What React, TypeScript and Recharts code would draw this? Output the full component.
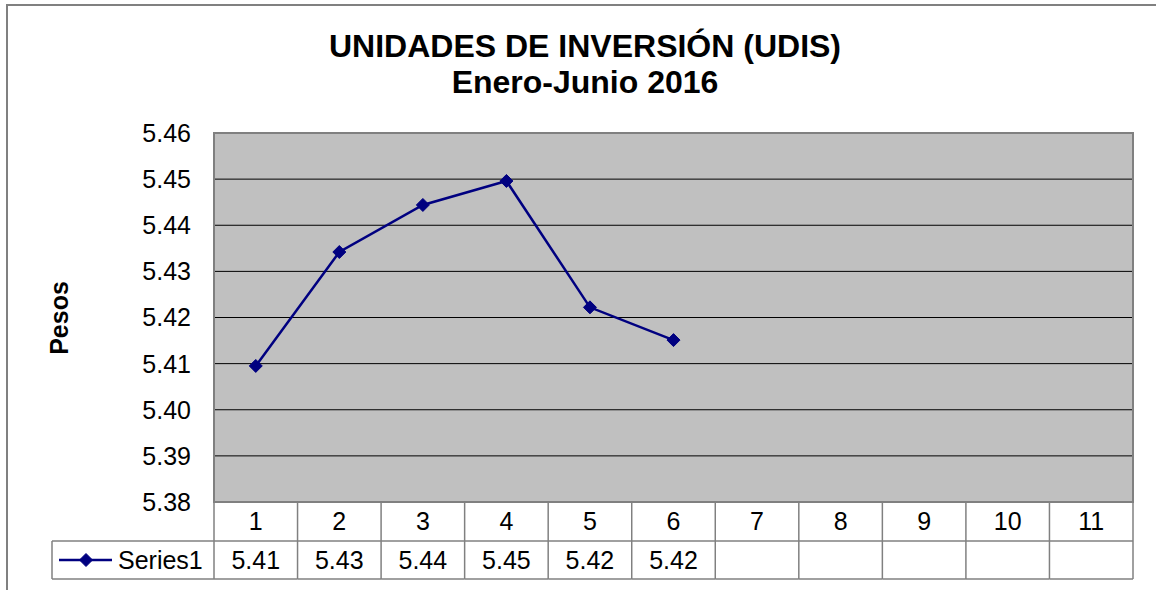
import React from "react";
import {
  LineChart,
  Line,
  XAxis,
  YAxis,
  CartesianGrid,
  ReferenceArea,
} from "recharts";

const categories = [1, 2, 3, 4, 5, 6, 7, 8, 9, 10, 11];
const seriesValues: (number | null)[] = [
  5.4095, 5.4342, 5.4444, 5.4496, 5.4222, 5.4151, null, null, null, null, null,
];
const yTicks = [5.38, 5.39, 5.4, 5.41, 5.42, 5.43, 5.44, 5.45, 5.46];
const seriesName = "Series1";
const titleLine1 = "UNIDADES DE INVERSIÓN (UDIS)";
const titleLine2 = "Enero-Junio 2016";
const yLabel = "Pesos";

const data = categories.map((c, i) => ({ cat: c, v: seriesValues[i] }));

const W = 1156;
const H = 590;
const PLOT_L = 214;
const PLOT_R = 1133;
const PLOT_T = 133;
const PLOT_B = 502;
const Y_AXIS_W = 80;
const X_AXIS_H = 80;
const ROW1_B = 541;
const ROW2_B = 579;
const LEGEND_L = 52;
const FONT = "'Liberation Sans', Arial, sans-serif";
const LINE_COLOR = "#000080";
const TABLE_STROKE = "#808080";
const TABLE_FS = 25;

const half = (PLOT_R - PLOT_L) / categories.length / 2;

const Diamond = (props: any) => {
  const { cx, cy } = props;
  if (cx == null || cy == null) return null;
  const r = 6.5;
  return (
    <path
      d={`M${cx},${cy - r}L${cx + r},${cy}L${cx},${cy + r}L${cx - r},${cy}Z`}
      fill={LINE_COLOR}
      stroke={LINE_COLOR}
    />
  );
};

const TableTick = (props: any) => {
  const { x, y, payload, index } = props;
  const i = categories.indexOf(payload.value);
  const v = seriesValues[i];
  const top = y;
  const left = x - half;
  const right = x + half;
  const midRow2 = (ROW1_B + ROW2_B) / 2;
  return (
    <g>
      {index === 0 && (
        <g>
          <line x1={left} y1={top} x2={left} y2={ROW2_B} stroke={TABLE_STROKE} strokeWidth={1.5} />
          <line x1={LEGEND_L} y1={ROW1_B} x2={left} y2={ROW1_B} stroke={TABLE_STROKE} strokeWidth={1.5} />
          <line x1={LEGEND_L} y1={ROW2_B} x2={left} y2={ROW2_B} stroke={TABLE_STROKE} strokeWidth={1.5} />
          <line x1={LEGEND_L} y1={ROW1_B} x2={LEGEND_L} y2={ROW2_B} stroke={TABLE_STROKE} strokeWidth={1.5} />
          <line x1={59} y1={midRow2} x2={112} y2={midRow2} stroke={LINE_COLOR} strokeWidth={2.5} />
          <Diamond cx={86} cy={midRow2} />
          <text
            x={118}
            y={midRow2}
            dy="0.355em"
            fontFamily={FONT}
            fontSize={TABLE_FS}
            fill="#000"
          >
            {seriesName}
          </text>
        </g>
      )}
      <line x1={right} y1={top} x2={right} y2={ROW2_B} stroke={TABLE_STROKE} strokeWidth={1.5} />
      <line x1={left} y1={ROW1_B} x2={right} y2={ROW1_B} stroke={TABLE_STROKE} strokeWidth={1.5} />
      <line x1={left} y1={ROW2_B} x2={right} y2={ROW2_B} stroke={TABLE_STROKE} strokeWidth={1.5} />
      <text
        x={x}
        y={(top + ROW1_B) / 2}
        dy="0.355em"
        textAnchor="middle"
        fontFamily={FONT}
        fontSize={TABLE_FS}
        fill="#000"
      >
        {payload.value}
      </text>
      {v != null && (
        <text
          x={x}
          y={midRow2}
          dy="0.355em"
          textAnchor="middle"
          fontFamily={FONT}
          fontSize={TABLE_FS}
          fill="#000"
        >
          {v.toFixed(2)}
        </text>
      )}
    </g>
  );
};

export default function App() {
  return (
    <div
      style={{
        position: "absolute",
        left: 0,
        top: 0,
        width: W,
        height: H,
        overflow: "hidden",
        background: "#fff",
        fontFamily: FONT,
      }}
    >
      <div
        style={{
          position: "absolute",
          left: 6,
          top: 4,
          width: W + 20,
          height: H + 20,
          border: "2px solid #808080",
          boxSizing: "border-box",
        }}
      />
      <div
        style={{
          position: "absolute",
          left: 0,
          width: 1170,
          top: 28,
          textAlign: "center",
          fontWeight: "bold",
          fontSize: 32,
          lineHeight: "36px",
          color: "#000",
        }}
      >
        <div>{titleLine1}</div>
        <div>{titleLine2}</div>
      </div>
      <div
        style={{
          position: "absolute",
          left: 59,
          top: 318,
          transform: "translate(-50%, -50%) rotate(-90deg)",
          fontWeight: "bold",
          fontSize: 25,
          whiteSpace: "nowrap",
          color: "#000",
        }}
      >
        {yLabel}
      </div>
      <div style={{ position: "absolute", left: 0, top: 0 }}>
        <LineChart
          width={W}
          height={H}
          data={data}
          margin={{
            left: PLOT_L - Y_AXIS_W,
            right: W - PLOT_R,
            top: PLOT_T,
            bottom: H - PLOT_B - X_AXIS_H,
          }}
        >
          <CartesianGrid
            vertical={false}
            horizontal={true}
            stroke="#000"
            strokeWidth={1}
            fill="#C0C0C0"
            fillOpacity={1}
          />
          <XAxis
            dataKey="cat"
            type="number"
            domain={[0.5, categories.length + 0.5]}
            ticks={categories}
            interval={0}
            axisLine={false}
            tickLine={false}
            tickSize={0}
            tickMargin={0}
            height={X_AXIS_H}
            tick={<TableTick />}
          />
          <YAxis
            type="number"
            domain={[5.38, 5.46]}
            ticks={yTicks}
            interval={0}
            width={Y_AXIS_W}
            axisLine={false}
            tickLine={false}
            tickSize={0}
            tickMargin={23}
            tickFormatter={(v: number) => v.toFixed(2)}
            tick={{ fontFamily: FONT, fontSize: 25, fill: "#000" }}
          />
          <ReferenceArea
            x1={0.5}
            x2={categories.length + 0.5}
            y1={5.38}
            y2={5.46}
            fill="none"
            stroke="#808080"
            strokeWidth={2}
            ifOverflow="visible"
          />
          <Line
            type="linear"
            dataKey="v"
            stroke={LINE_COLOR}
            strokeWidth={2.5}
            dot={<Diamond />}
            activeDot={false}
            isAnimationActive={false}
            connectNulls={false}
          />
        </LineChart>
      </div>
    </div>
  );
}
